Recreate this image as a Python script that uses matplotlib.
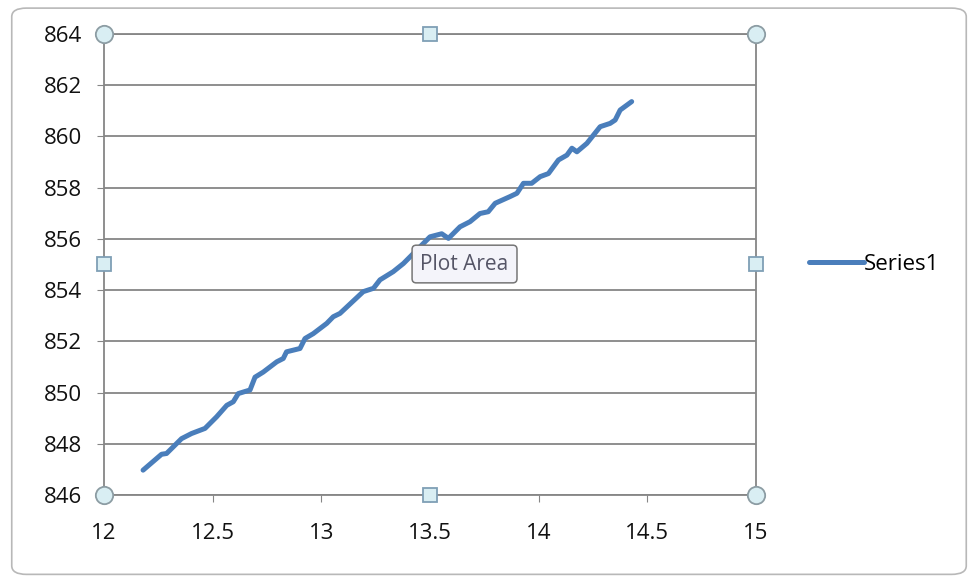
import matplotlib.pyplot as plt
from matplotlib.patches import FancyBboxPatch

plt.rcParams['font.family'] = ['Open Sans', 'DejaVu Sans']

# series
x = [12.18, 12.265, 12.288, 12.357, 12.403, 12.465, 12.518, 12.565, 12.595, 12.618,
     12.672, 12.695, 12.733, 12.795, 12.825, 12.84, 12.902, 12.925, 12.963, 13.025,
     13.055, 13.086, 13.193, 13.24, 13.27, 13.331, 13.378, 13.5, 13.554, 13.585,
     13.638, 13.684, 13.73, 13.768, 13.8, 13.868, 13.9, 13.93, 13.968, 14.007,
     14.045, 14.091, 14.13, 14.153, 14.176, 14.222, 14.283, 14.329, 14.352, 14.375,
     14.428]
y = [846.97, 847.59, 847.62, 848.2, 848.4, 848.6, 849.05, 849.5, 849.64, 849.96,
     850.1, 850.6, 850.8, 851.2, 851.33, 851.59, 851.72, 852.11, 852.3, 852.7,
     852.96, 853.09, 853.94, 854.07, 854.4, 854.72, 855.04, 856.08, 856.2, 856.02,
     856.47, 856.67, 856.99, 857.06, 857.39, 857.65, 857.78, 858.17, 858.17, 858.43,
     858.55, 859.08, 859.27, 859.54, 859.4, 859.73, 860.38, 860.51, 860.64, 861.03,
     861.36]
xticks = [12, 12.5, 13, 13.5, 14, 14.5, 15]
yticks = [846, 848, 850, 852, 854, 856, 858, 860, 862, 864]
series_name = 'Series1'

fig = plt.figure(figsize=(9.78, 5.79), dpi=100)
# chart area border
fig.patches.append(FancyBboxPatch((0.012, 0.008), 0.976, 0.978, boxstyle='round,pad=0,rounding_size=0.015',
                                  transform=fig.transFigure, fc='none', ec='#b8b8b8', lw=1.2, zorder=-1))

ax = fig.add_axes([0.1063, 0.1451, 0.6667, 0.7962])
ax.plot(x, y, color='#4a7ebb', lw=3.6, solid_capstyle='round', label=series_name, zorder=3)

ax.set_xlim(12, 15)
ax.set_ylim(846, 864)
ax.set_xticks(xticks)
ax.set_xticklabels([f'{v:g}' for v in xticks])
ax.set_yticks(yticks)
ax.grid(axis='y', color='#868686', lw=1.3)
ax.set_axisbelow(True)
ax.set_facecolor('none')
for s in ['left', 'bottom', 'top', 'right']:
    ax.spines[s].set_color('#868686')
    ax.spines[s].set_linewidth(1.3)
ax.tick_params(axis='x', length=5, color='#868686', pad=15, labelsize=16, labelcolor='#111111')
ax.tick_params(axis='y', length=5, color='#868686', pad=11, labelsize=16, labelcolor='#111111')

# selection handles of the plot area
for hx, hy in [(0, 0), (1, 0), (0, 1), (1, 1)]:
    ax.plot(hx, hy, 'o', ms=12.5, mfc='#d9eef3', mec='#8c9ca3', mew=1.3,
            transform=ax.transAxes, clip_on=False, zorder=5)
for hx, hy in [(0.5, 0), (0.5, 1), (0, 0.5), (1, 0.5)]:
    ax.plot(hx, hy, 's', ms=10, mfc='#d9eef3', mec='#7f9fb5', mew=1.3,
            transform=ax.transAxes, clip_on=False, zorder=5)

ax.text(0.553, 0.501, 'Plot Area', transform=ax.transAxes, fontsize=15, color='#555566',
        ha='center', va='center', zorder=6,
        bbox=dict(boxstyle='round,pad=0.4,rounding_size=0.2', fc='#f4f4fa', ec='#767676', lw=1.1))

ax.legend(loc='center left', bbox_to_anchor=(1.05, 0.5), frameon=False, fontsize=16,
          handlelength=2.5, handletextpad=0.0)

fig.savefig('out.png', dpi=100)
